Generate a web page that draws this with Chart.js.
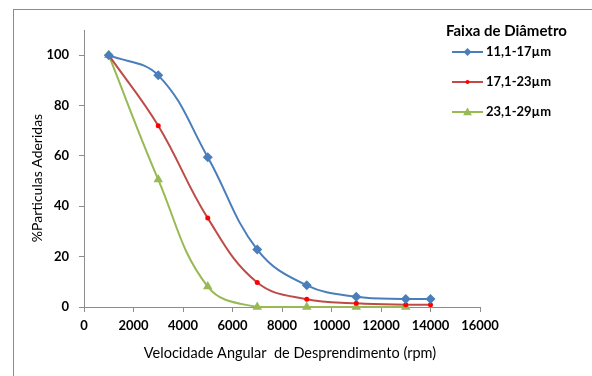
<!DOCTYPE html>
<html>
<head>
<meta charset="utf-8">
<script src="https://cdn.jsdelivr.net/npm/chart.js@4.4.1/dist/chart.umd.min.js"></script>
<style>
    html, body { margin: 0; padding: 0; background: #fff; }
    #wrap { position: relative; width: 592px; height: 376px; }
    #frame {
        position: absolute; left: 13px; top: 9px; right: 0; bottom: 0;
        border-left: 1px solid #8c8c8c; border-top: 1px solid #8c8c8c;
    }
    #chart { position: absolute; left: 0; top: 0; }
</style>
</head>
<body>
<div id="wrap">
    <div id="frame"></div>
    <canvas id="chart" width="592" height="376"></canvas>
</div>
<script>
// rpm values
const rpm = [1000, 3000, 5000, 7000, 9000, 11000, 13000, 14000];

// % particles still adhered, per diameter range
const faixa1 = [100, 92, 59.5, 22.8, 8.6, 4.1, 3.2, 3.2];
const faixa2 = [100, 72, 35.3, 9.7, 3.1, 1.5, 0.9, 0.9];
const faixa3 = [100, 50.6, 8.1, 0, 0, 0, 0];

const seriesNames = ['11,1-17\u00b5m', '17,1-23\u00b5m', '23,1-29\u00b5m'];
const xTitle = 'Velocidade Angular  de Desprendimento (rpm)';
const yTitle = '%Particulas Aderidas';
const legendTitle = 'Faixa de Di\u00e2metro';

const FONT = 'Lato, "Open Sans", sans-serif';

const toPoints = (vals) => vals.map((v, i) => ({ x: rpm[i], y: v }));

function drawMarker(ctx, style, x, y, r, fill) {
    ctx.save();
    ctx.fillStyle = fill;
    ctx.beginPath();
    if (style === 'rectRot') {
        ctx.moveTo(x, y - r); ctx.lineTo(x + r, y); ctx.lineTo(x, y + r); ctx.lineTo(x - r, y);
    } else if (style === 'triangle') {
        ctx.moveTo(x, y - r); ctx.lineTo(x + r, y + r * 0.75); ctx.lineTo(x - r, y + r * 0.75);
    } else {
        ctx.arc(x, y, r, 0, Math.PI * 2);
    }
    ctx.closePath();
    ctx.fill();
    ctx.restore();
}

// legend + axis titles drawn on top, Excel style
const extrasPlugin = {
    id: 'extras',
    afterDraw(chart) {
        const ctx = chart.ctx;
        ctx.save();
        ctx.fillStyle = '#000';
        ctx.textBaseline = 'middle';

        // x title
        ctx.font = '14.5px ' + FONT;
        ctx.textAlign = 'center';
        ctx.fillText(xTitle, 290, 353);

        // y title
        ctx.save();
        ctx.font = '14px ' + FONT;
        ctx.translate(37, 178);
        ctx.rotate(-Math.PI / 2);
        ctx.fillText(yTitle, 0, 0);
        ctx.restore();

        // legend
        ctx.textAlign = 'left';
        ctx.font = 'bold 15px ' + FONT;
        ctx.fillText(legendTitle, 446, 31);
        ctx.font = 'bold 13px ' + FONT;
        chart.data.datasets.forEach((ds, i) => {
            const y = 52 + i * 30;
            ctx.strokeStyle = ds.borderColor;
            ctx.lineWidth = ds.borderWidth;
            ctx.beginPath();
            ctx.moveTo(452, y);
            ctx.lineTo(483, y);
            ctx.stroke();
            drawMarker(ctx, ds.pointStyle, 467.5, y, ds.pointRadius * 0.8, ds.pointBackgroundColor);
            ctx.fillStyle = '#000';
            ctx.fillText(ds.label, 486, y);
        });
        ctx.restore();
    }
};

new Chart(document.getElementById('chart'), {
    type: 'line',
    data: {
        datasets: [
            {
                label: seriesNames[0],
                data: toPoints(faixa1),
                borderColor: '#4a7ebb',
                borderWidth: 2,
                pointStyle: 'rectRot',
                pointRadius: 5,
                pointBackgroundColor: '#4a7ebb',
                pointBorderColor: '#4a7ebb',
                pointBorderWidth: 0,
                tension: 0.4,
                clip: false
            },
            {
                label: seriesNames[1],
                data: toPoints(faixa2),
                borderColor: '#be4b48',
                borderWidth: 2,
                pointStyle: 'circle',
                pointRadius: 2.5,
                pointBackgroundColor: '#ff0000',
                pointBorderColor: '#ff0000',
                pointBorderWidth: 0,
                tension: 0.4,
                clip: false
            },
            {
                label: seriesNames[2],
                data: toPoints(faixa3),
                borderColor: '#98b954',
                borderWidth: 2,
                pointStyle: 'triangle',
                pointRadius: 5.5,
                pointBackgroundColor: '#98b954',
                pointBorderColor: '#98b954',
                pointBorderWidth: 0,
                tension: 0.4,
                clip: false
            }
        ]
    },
    options: {
        responsive: false,
        animation: false,
        layout: { padding: { top: 30, right: 112, left: 0, bottom: 0 } },
        plugins: {
            legend: { display: false },
            tooltip: { enabled: false }
        },
        scales: {
            x: {
                type: 'linear',
                min: 0,
                max: 16000,
                ticks: {
                    stepSize: 2000,
                    color: '#000',
                    padding: 6,
                    maxRotation: 0,
                    font: { family: FONT, size: 13, weight: 'bold' },
                    callback: (v) => String(v)
                },
                grid: { drawOnChartArea: false, tickLength: 5, color: '#8c8c8c' },
                border: { color: '#8c8c8c' },
                afterFit: (scale) => { scale.height = 69; }
            },
            y: {
                min: 0,
                max: 110,
                ticks: {
                    stepSize: 20,
                    color: '#000',
                    padding: 10,
                    font: { family: FONT, size: 13, weight: 'bold' },
                    callback: (v) => String(v)
                },
                afterBuildTicks: (scale) => {
                    scale.ticks = scale.ticks.filter(t => t.value <= 100);
                },
                grid: { drawOnChartArea: false, tickLength: 5, color: '#8c8c8c' },
                border: { color: '#8c8c8c' },
                afterFit: (scale) => { scale.width = 84; }
            }
        }
    },
    plugins: [extrasPlugin]
});
</script>
</body>
</html>
